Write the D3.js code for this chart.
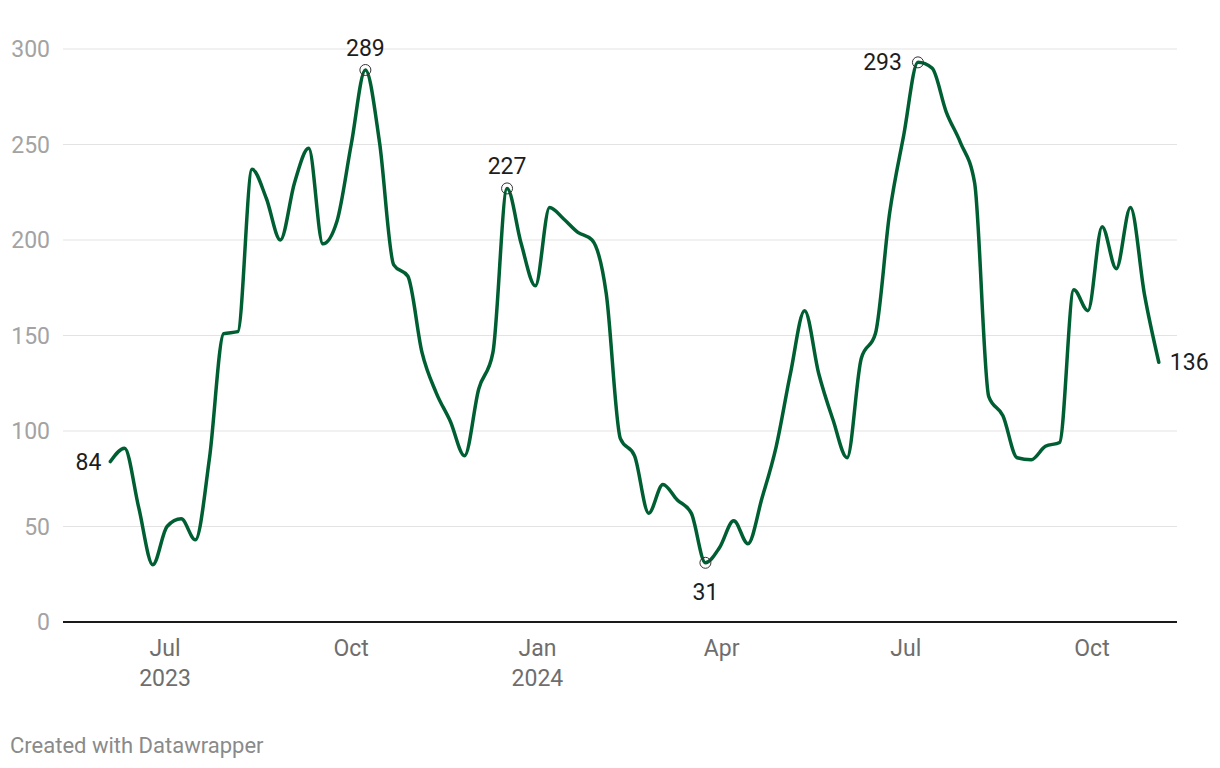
<!DOCTYPE html>
<html>
<head>
<meta charset="utf-8">
<script src="https://cdn.jsdelivr.net/npm/d3@7"></script>
<style>
  html, body { margin: 0; padding: 0; background: #fff; }
  svg { display: block; font-family: Roboto, "Noto Sans", Arial, sans-serif; }
</style>
</head>
<body>
<svg id="chart" width="1220" height="768"></svg>
<script>
// ---- data ----
const startDate = "2023-06-04"; // first weekly observation
const values = [
  84, 91, 60, 30, 50, 54, 43, 86, 151, 152,
  237, 222, 200, 230, 248, 198, 210, 250, 289, 251,
  187, 181, 141, 120, 105, 87, 122, 141, 227, 198,
  176, 217, 211, 204, 200, 172, 96, 87, 57, 72,
  64, 57, 31, 39, 53, 41, 65, 92, 130, 163,
  130, 106, 86, 138, 151, 214, 255, 293, 290, 267,
  251, 230, 118, 108, 86, 85, 92, 94, 174, 163,
  207, 185, 217, 171, 136
];
const yTicks = [0, 50, 100, 150, 200, 250, 300];
const xTickDates = ["2023-07-01", "2023-10-01", "2024-01-01", "2024-04-01", "2024-07-01", "2024-10-01"];
const xTickMonths = ["Jul", "Oct", "Jan", "Apr", "Jul", "Oct"];
const xTickYears = ["2023", "", "2024", "", "", ""];
const highlightIdx = [18, 28, 42, 57];          // annotated extremes
const highlightPos = ["above", "above", "below", "left"];

// ---- build ----
const parse = d3.utcParse("%Y-%m-%d");
const t0 = parse(startDate);
const data = values.map((v, i) => ({ date: d3.utcWeek.offset(t0, i), value: v }));

const svg = d3.select("#chart");
const x = d3.scaleUtc()
  .domain([parse("2023-07-01"), parse("2024-10-01")])
  .range([165, 1092]);
const y = d3.scaleLinear().domain([0, 300]).range([622, 49]);
const plotLeft = 63, plotRight = 1177;
const FS = 23;

// gridlines
svg.append("g").selectAll("line").data(yTicks.filter(d => d > 0)).join("line")
  .attr("x1", plotLeft).attr("x2", plotRight)
  .attr("y1", d => y(d)).attr("y2", d => y(d))
  .attr("stroke", "#e3e3e3").attr("stroke-width", 1);

// y labels
svg.append("g").selectAll("text").data(yTicks).join("text")
  .attr("x", 50).attr("y", d => y(d))
  .attr("dy", "0.35em")
  .attr("text-anchor", "end")
  .attr("font-size", FS)
  .attr("fill", "#a3a3a3")
  .text(d => d);

// baseline
svg.append("line")
  .attr("x1", plotLeft).attr("x2", plotRight)
  .attr("y1", y(0)).attr("y2", y(0))
  .attr("stroke", "#1a1a1a").attr("stroke-width", 2);

// x labels
const xg = svg.append("g");
xTickDates.forEach((d, i) => {
  const xx = x(parse(d));
  xg.append("text").attr("x", xx).attr("y", 656)
    .attr("text-anchor", "middle").attr("font-size", FS).attr("fill", "#6e6e6e")
    .text(xTickMonths[i]);
  if (xTickYears[i]) {
    xg.append("text").attr("x", xx).attr("y", 686)
      .attr("text-anchor", "middle").attr("font-size", FS).attr("fill", "#6e6e6e")
      .text(xTickYears[i]);
  }
});

// line
const line = d3.line()
  .x(d => x(d.date)).y(d => y(d.value))
  .curve(d3.curveMonotoneX);
svg.append("path").datum(data)
  .attr("d", line)
  .attr("fill", "none")
  .attr("stroke", "#005f32")
  .attr("stroke-width", 3.5)
  .attr("stroke-linejoin", "round")
  .attr("stroke-linecap", "round");

// highlight circles + labels
const ag = svg.append("g");
highlightIdx.forEach((idx, k) => {
  const d = data[idx];
  const px = x(d.date), py = y(d.value);
  ag.append("circle").attr("cx", px).attr("cy", py).attr("r", 5.5)
    .attr("fill", "none").attr("stroke", "#333").attr("stroke-width", 1);
  const t = ag.append("text").attr("font-size", FS).attr("fill", "#1d1d1d").text(d.value);
  const pos = highlightPos[k];
  if (pos === "above") t.attr("x", px).attr("y", py - 14).attr("text-anchor", "middle");
  else if (pos === "below") t.attr("x", px).attr("y", py + 37).attr("text-anchor", "middle");
  else t.attr("x", px - 16).attr("y", py).attr("dy", "0.35em").attr("text-anchor", "end");
});

// start / end labels
const first = data[0], last = data[data.length - 1];
ag.append("text").attr("x", x(first.date) - 9).attr("y", y(first.value)).attr("dy", "0.35em")
  .attr("text-anchor", "end").attr("font-size", FS).attr("fill", "#1d1d1d").text(first.value);
ag.append("text").attr("x", x(last.date) + 11).attr("y", y(last.value)).attr("dy", "0.35em")
  .attr("text-anchor", "start").attr("font-size", FS).attr("fill", "#1d1d1d").text(last.value);

// footer
svg.append("text").attr("x", 10).attr("y", 753)
  .attr("font-size", 22).attr("fill", "#8a8a8a")
  .text("Created with Datawrapper");
</script>
</body>
</html>
